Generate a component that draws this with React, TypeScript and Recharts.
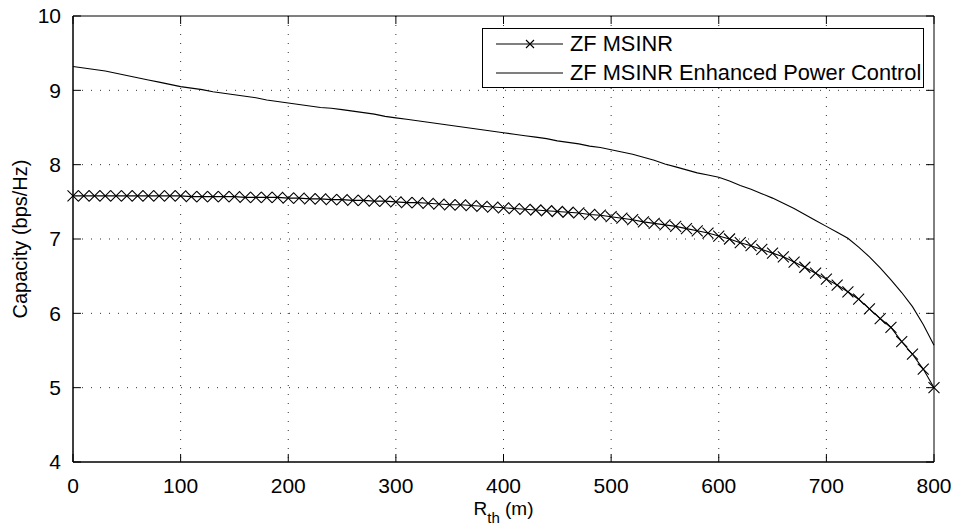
import { LineChart, Line, XAxis, YAxis, CartesianGrid, Legend, ReferenceArea, ReferenceLine } from 'recharts'

const rth = [
  0, 10, 20, 30, 40, 50, 60, 70, 80, 90, 100, 110, 120, 130, 140, 150, 160, 170, 180, 190,
  200, 210, 220, 230, 240, 250, 260, 270, 280, 290, 300, 310, 320, 330, 340, 350, 360, 370, 380, 390,
  400, 410, 420, 430, 440, 450, 460, 470, 480, 490, 500, 510, 520, 530, 540, 550, 560, 570, 580, 590,
  600, 610, 620, 630, 640, 650, 660, 670, 680, 690, 700, 710, 720, 730, 740, 750, 760, 770, 780, 790, 800,
]

const zfMsinr = [
  7.58, 7.58, 7.58, 7.58, 7.58, 7.58, 7.58, 7.58, 7.58, 7.58, 7.58, 7.57, 7.57, 7.57, 7.57, 7.57, 7.56, 7.56, 7.56, 7.56,
  7.55, 7.55, 7.54, 7.54, 7.53, 7.53, 7.52, 7.52, 7.51, 7.51, 7.5, 7.49, 7.49, 7.48, 7.47, 7.46, 7.46, 7.45, 7.44, 7.43,
  7.42, 7.41, 7.4, 7.39, 7.38, 7.37, 7.36, 7.35, 7.33, 7.32, 7.3, 7.28, 7.26, 7.23, 7.21, 7.19, 7.17, 7.14, 7.11, 7.08,
  7.04, 7.0, 6.95, 6.91, 6.86, 6.81, 6.76, 6.69, 6.62, 6.54, 6.46, 6.38, 6.29, 6.19, 6.06, 5.93, 5.81, 5.62, 5.45, 5.25, 5.0,
]

const zfEnhanced = [
  9.32, 9.3, 9.28, 9.26, 9.23, 9.2, 9.17, 9.14, 9.11, 9.08, 9.05, 9.03, 9.01, 8.98, 8.96, 8.94, 8.92, 8.9, 8.87, 8.85,
  8.83, 8.81, 8.79, 8.77, 8.76, 8.74, 8.72, 8.7, 8.68, 8.65, 8.63, 8.61, 8.59, 8.57, 8.55, 8.53, 8.51, 8.49, 8.47, 8.45,
  8.43, 8.41, 8.39, 8.37, 8.35, 8.32, 8.3, 8.28, 8.25, 8.23, 8.2, 8.17, 8.14, 8.1, 8.06, 8.01, 7.97, 7.93, 7.89, 7.86,
  7.83, 7.78, 7.72, 7.67, 7.61, 7.55, 7.48, 7.41, 7.33, 7.25, 7.17, 7.09, 7.01, 6.89, 6.76, 6.61, 6.45, 6.28, 6.09, 5.85, 5.57,
]

const xTicks = [0, 100, 200, 300, 400, 500, 600, 700, 800]
const yTicks = [4, 5, 6, 7, 8, 9, 10]
const xGrid = [100, 200, 300, 400, 500, 600, 700]
const yGrid = [5, 6, 7, 8, 9]

const X_MIN = 0
const X_MAX = 800
const Y_MIN = 4
const Y_MAX = 10
// inward tick length, in axis units (about 8px each way)
const TICK_X = 7.4
const TICK_Y = 0.108

const data = rth.map((r, i) => ({ r, msinr: zfMsinr[i], enhanced: zfEnhanced[i] }))

const FONT = '"Liberation Sans", Arial, Helvetica, sans-serif'

const Cross = (props: any) => {
  const { cx, cy } = props
  if (cx == null || cy == null) return null
  const s = 5.5
  return (
    <path
      d={`M${cx - s},${cy - s}L${cx + s},${cy + s}M${cx - s},${cy + s}L${cx + s},${cy - s}`}
      stroke="#000"
      strokeWidth={1.1}
      fill="none"
    />
  )
}

const XLabel = (props: any) => {
  const vb = props.viewBox || {}
  const cx = vb.x + vb.width / 2
  return (
    <text x={cx} y={515} textAnchor="middle" fontSize={19} fill="#000" fontFamily={FONT}>
      R<tspan fontSize={15} dy={8}>th</tspan>
      <tspan dy={-8}> (m)</tspan>
    </text>
  )
}

const YLabel = (props: any) => {
  const vb = props.viewBox || {}
  const cy = vb.y + vb.height / 2
  return (
    <text
      x={27}
      y={cy}
      transform={`rotate(-90, 27, ${cy})`}
      textAnchor="middle"
      fontSize={20}
      fill="#000"
      fontFamily={FONT}
    >
      Capacity (bps/Hz)
    </text>
  )
}

const LegendBox = () => (
  <div
    style={{
      width: 440,
      height: 58,
      border: '1px solid #000',
      background: '#fff',
      boxSizing: 'content-box',
    }}
  >
    <svg width={440} height={58} style={{ display: 'block' }}>
      <line x1={13} x2={80} y1={15} y2={15} stroke="#000" strokeWidth={1.1} />
      <path d="M43,11L51,19M43,19L51,11" stroke="#000" strokeWidth={1.1} />
      <text x={87} y={22} fontSize={21.8} fill="#000" fontFamily={FONT}>
        ZF MSINR
      </text>
      <line x1={13} x2={80} y1={44} y2={44} stroke="#000" strokeWidth={1.1} />
      <text x={87} y={51} fontSize={21.8} fill="#000" fontFamily={FONT}>
        ZF MSINR Enhanced Power Control
      </text>
    </svg>
  </div>
)

const App = () => {
  return (
    <div style={{ position: 'absolute', left: 0, top: 0, background: '#fff', fontFamily: FONT }}>
      <LineChart
        width={957}
        height={526}
        data={data}
        margin={{ top: 16, right: 23, left: 0, bottom: 0 }}
      >
        <CartesianGrid
          stroke="#333"
          strokeDasharray="1 8"
          horizontalValues={yGrid}
          verticalValues={xGrid}
        />
        <XAxis
          dataKey="r"
          type="number"
          domain={[X_MIN, X_MAX]}
          ticks={xTicks}
          height={64}
          tickLine={false}
          tickMargin={10}
          stroke="#000"
          tick={{ fill: '#000', fontSize: 21 }}
          label={<XLabel />}
        />
        <YAxis
          type="number"
          domain={[Y_MIN, Y_MAX]}
          ticks={yTicks}
          width={73}
          tickLine={false}
          tickMargin={6}
          stroke="#000"
          tick={{ fill: '#000', fontSize: 21 }}
          label={<YLabel />}
        />
        {/* box around the plot */}
        <ReferenceArea
          x1={X_MIN}
          x2={X_MAX}
          y1={Y_MIN}
          y2={Y_MAX}
          fill="none"
          fillOpacity={0}
          stroke="#000"
          strokeWidth={1}
          ifOverflow="visible"
        />
        {/* inward tick marks on all four sides */}
        {xTicks.map((t) => (
          <ReferenceLine
            key={`xb${t}`}
            segment={[{ x: t, y: Y_MIN }, { x: t, y: Y_MIN + TICK_Y }]}
            stroke="#000"
            ifOverflow="visible"
          />
        ))}
        {xTicks.map((t) => (
          <ReferenceLine
            key={`xt${t}`}
            segment={[{ x: t, y: Y_MAX }, { x: t, y: Y_MAX - TICK_Y }]}
            stroke="#000"
            ifOverflow="visible"
          />
        ))}
        {yTicks.map((t) => (
          <ReferenceLine
            key={`yl${t}`}
            segment={[{ x: X_MIN, y: t }, { x: X_MIN + TICK_X, y: t }]}
            stroke="#000"
            ifOverflow="visible"
          />
        ))}
        {yTicks.map((t) => (
          <ReferenceLine
            key={`yr${t}`}
            segment={[{ x: X_MAX, y: t }, { x: X_MAX - TICK_X, y: t }]}
            stroke="#000"
            ifOverflow="visible"
          />
        ))}
        <Legend
          verticalAlign="middle"
          align="center"
          layout="horizontal"
          content={<LegendBox />}
          wrapperStyle={{ left: 482, top: 28, width: 442, height: 60 }}
        />
        <Line
          dataKey="msinr"
          name="ZF MSINR"
          stroke="#000"
          strokeWidth={1.1}
          dot={<Cross />}
          activeDot={false}
          isAnimationActive={false}
        />
        <Line
          dataKey="enhanced"
          name="ZF MSINR Enhanced Power Control"
          stroke="#000"
          strokeWidth={1.1}
          dot={false}
          activeDot={false}
          isAnimationActive={false}
        />
      </LineChart>
    </div>
  )
}

export default App
